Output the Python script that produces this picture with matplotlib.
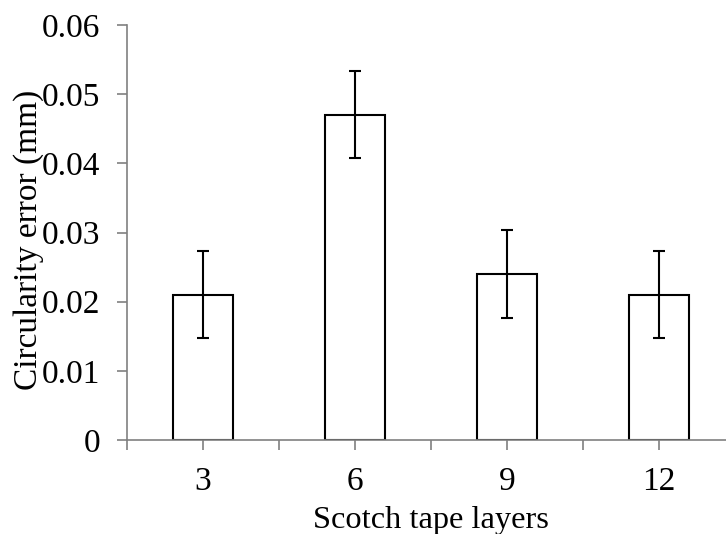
import matplotlib
matplotlib.use("Agg")
import matplotlib.pyplot as plt
import numpy as np

categories = ["3", "6", "9", "12"]
values = [0.021, 0.047, 0.024, 0.021]
errors = [0.0063, 0.0063, 0.0063, 0.0063]
yticks = [0, 0.01, 0.02, 0.03, 0.04, 0.05, 0.06]
ytick_labels = ["0", "0.01", "0.02", "0.03", "0.04", "0.05", "0.06"]

plt.rcParams['font.family'] = ['Liberation Serif', 'DejaVu Serif']

fig = plt.figure(figsize=(7.26, 5.34), dpi=100)
ax = fig.add_axes([127/726, 94/534, (735-127)/726, (440-25)/534])

x = np.arange(len(categories))
ax.bar(x, values, width=0.4, color='white', edgecolor='black', linewidth=1.5, zorder=2)
ax.errorbar(x, values, yerr=errors, fmt='none', ecolor='black', elinewidth=1.5,
            capsize=4.5, capthick=1.5, zorder=3)

ax.set_xlim(-0.5, 3.5)
ax.set_ylim(0, 0.06)
ax.set_yticks(yticks)
ax.set_yticklabels(ytick_labels)
ax.set_xticks(x)
ax.set_xticklabels(categories)
ax.set_xticks(np.arange(-0.5, 3.6, 1.0), minor=True)

for s in ['top', 'right']:
    ax.spines[s].set_visible(False)
for s in ['left', 'bottom']:
    ax.spines[s].set_color('#808080')
    ax.spines[s].set_linewidth(1.2)

ax.tick_params(axis='y', direction='out', length=7, width=1.2, color='#808080',
               labelsize=24, pad=12)
ax.tick_params(axis='x', which='major', direction='out', length=7, width=1.2,
               color='#808080', labelsize=24, pad=12)
ax.tick_params(axis='x', which='minor', direction='out', length=7, width=1.2,
               color='#808080')

ax.set_xlabel("Scotch tape layers", fontsize=23.3, labelpad=6.5)
ax.set_ylabel("Circularity error (mm)", fontsize=24, labelpad=-1.5)
ax.yaxis.label.set_y(0.482)

ax.spines['left'].set_bounds(0, 0.06)

fig.savefig("out.png", dpi=100)
